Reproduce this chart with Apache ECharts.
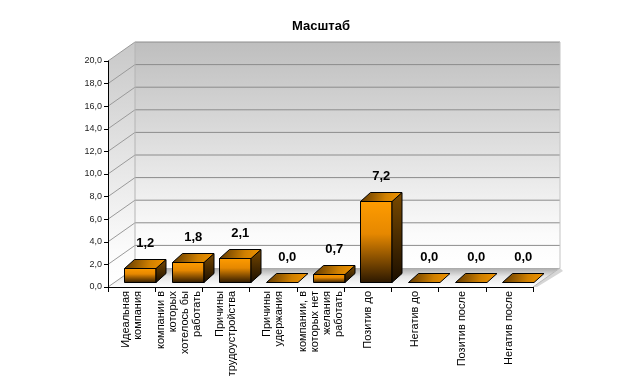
<!DOCTYPE html>
<html>
<head>
<meta charset="utf-8">
<script src="https://cdn.jsdelivr.net/npm/echarts@6/dist/echarts.min.js"></script>
<style>html,body{margin:0;padding:0;background:#fff;}#chart{width:642px;height:382px;}</style>
</head>
<body>
<div id="chart"></div>
<script>
const titleText = 'Масштаб';
const categories = [
  'Идеальная\nкомпания',
  'компании в\nкоторых\nхотелось бы\nработать',
  'Причины\nтрудоустройства',
  'Причины\nудержания',
  'компании, в\nкоторых нет\nжелания\nработать',
  'Позитив до',
  'Негатив до',
  'Позитив после',
  'Негатив после'
];
const values = [1.2, 1.8, 2.1, 0.0, 0.7, 7.2, 0.0, 0.0, 0.0];
const yTicks = [0, 2, 4, 6, 8, 10, 12, 14, 16, 18, 20];

const FONT = '"Liberation Sans", Arial, sans-serif';
const DX = 27, DY = -19;          // wall depth
const BOX = { ox: 8.5, oy: -5, dx: 10, dy: -9, w: 0.67 };

const fmt = v => v.toFixed(1).replace('.', ',');

function lin(x1, y1, x2, y2, stops) {
  return new echarts.graphic.LinearGradient(x1, y1, x2, y2, stops.map(c => ({ offset: c[0], color: c[1] })));
}

function renderWalls(params, api) {
  const cs = params.coordSys;
  const x0 = cs.x, x1 = cs.x + cs.width, yt = cs.y, yb = cs.y + cs.height;
  const children = [];
  children.push({ type: 'rect', shape: { x: x0 + DX, y: yt + DY, width: x1 - x0, height: yb - yt },
    style: { fill: lin(0, 0, 0, 1, [[0, '#bebebe'], [0.85, '#fbfbfb'], [1, '#ffffff']]) } });
  children.push({ type: 'polygon', shape: { points: [[x0, yt], [x0 + DX, yt + DY], [x0 + DX, yb + DY], [x0, yb]] },
    style: { fill: lin(0, 0, 0, 1, [[0, '#c8c8c8'], [0.85, '#fbfbfb'], [1, '#ffffff']]) } });
  children.push({ type: 'polygon', shape: { points: [[x0, yb], [x0 + DX, yb + DY], [x1 + DX, yb + DY], [x1, yb]] },
    style: { fill: lin(0, 0, 0, 1, [[0, '#a9a9a9'], [0.45, '#e6e6e6'], [1, '#ffffff']]) } });
  children.push({ type: 'polygon', shape: { points: [[x1, yb], [x1 + DX, yb + DY], [x1 + DX + 3, yb + DY + 3], [x1 + 4, yb]] },
    style: { fill: '#d6d6d6' } });
  yTicks.forEach(v => {
    const y = api.coord([0, v])[1];
    if (v > 0) {
      children.push({ type: 'line', shape: { x1: x0 + DX, y1: y + DY, x2: x1 + DX, y2: y + DY },
        style: { stroke: '#8c8c8c', lineWidth: 1 } });
    }
    children.push({ type: 'line', shape: { x1: x0, y1: y, x2: x0 + DX, y2: y + DY },
      style: { stroke: '#9a9a9a', lineWidth: 1 } });
  });
  children.push({ type: 'line', shape: { x1: x0 + DX, y1: yt + DY, x2: x0 + DX, y2: yb + DY },
    style: { stroke: '#b4b4b4', lineWidth: 1 } });
  children.push({ type: 'line', shape: { x1: x1 + DX, y1: yt + DY, x2: x1 + DX, y2: yb + DY },
    style: { stroke: '#c4c4c4', lineWidth: 1 } });
  children.push({ type: 'line', shape: { x1: x1, y1: yb, x2: x1 + DX, y2: yb + DY },
    style: { stroke: '#b8b8b8', lineWidth: 1 } });
  return { type: 'group', children };
}

function renderBar(params, api) {
  const i = api.value(0), v = api.value(1);
  const base = api.coord([i, 0]);
  const top = api.coord([i, v]);
  const bw = api.size([1, 0])[0] * BOX.w;
  const xa = Math.round(base[0] - bw / 2 + BOX.ox) + 0.5;
  const xb = Math.round(xa + bw);
  const yb = Math.round(base[1] + BOX.oy) + 0.5;
  const yt = Math.round(top[1] + BOX.oy) + 0.5;
  const dx = BOX.dx, dy = BOX.dy;
  const edge = { stroke: '#000', lineWidth: 1 };
  const children = [];
  if (yb - yt > 0.5) {
    children.push({ type: 'polygon', shape: { points: [[xa, yt], [xb, yt], [xb, yb], [xa, yb]] },
      style: Object.assign({ fill: lin(0, 0, 0, 1, [[0, '#ff9c00'], [0.4, '#e68800'], [1, '#2a1700']]) }, edge) });
    children.push({ type: 'polygon', shape: { points: [[xb, yt], [xb + dx, yt + dy], [xb + dx, yb + dy], [xb, yb]] },
      style: Object.assign({ fill: lin(0, 0, 0, 1, [[0, '#7a4a00'], [1, '#1a0e00']]) }, edge) });
  }
  children.push({ type: 'polygon', shape: { points: [[xa, yt], [xa + dx, yt + dy], [xb + dx, yt + dy], [xb, yt]] },
    style: Object.assign({ fill: lin(0, 0, 1, 1, [[0, '#5a3500'], [0.6, '#d08000'], [1, '#f59600']]) }, edge) });
  children.push({ type: 'text', style: {
    text: fmt(v), x: (xa + xb) / 2 + dx / 2, y: yt + dy - 16,
    align: 'center', verticalAlign: 'middle', font: 'bold 13px ' + FONT, fill: '#000' } });
  return { type: 'group', children };
}

const chart = echarts.init(document.getElementById('chart'), null, { renderer: 'canvas' });
chart.setOption({
  animation: false,
  backgroundColor: '#ffffff',
  title: { text: titleText, left: 'center', top: 15,
    textStyle: { fontFamily: FONT, fontSize: 13, fontWeight: 'bold', color: '#000' } },
  grid: { left: 108, right: 109, top: 61, bottom: 95, containLabel: false },
  xAxis: {
    type: 'category', data: categories, z: 10,
    axisLine: { lineStyle: { color: '#000', width: 1 } },
    axisTick: { show: true, alignWithLabel: false, length: 5, lineStyle: { color: '#000' } },
    axisLabel: { interval: 0, rotate: 90, margin: 4, fontFamily: FONT, fontSize: 11, lineHeight: 12, color: '#000' },
    splitLine: { show: false }
  },
  yAxis: {
    type: 'value', min: 0, max: 20, interval: 2, z: 10,
    axisLine: { show: true, lineStyle: { color: '#000', width: 1 } },
    axisTick: { show: true, length: 4, lineStyle: { color: '#000' } },
    axisLabel: { margin: 6, fontFamily: FONT, fontSize: 9, color: '#222', formatter: v => fmt(v) },
    splitLine: { show: false }
  },
  series: [
    { type: 'custom', name: 'walls', z: 1, silent: true, renderItem: renderWalls, data: [[0, 0]] },
    { type: 'custom', name: titleText, z: 3, renderItem: renderBar,
      data: values.map((v, i) => [i, v]) }
  ]
});
</script>
</body>
</html>
